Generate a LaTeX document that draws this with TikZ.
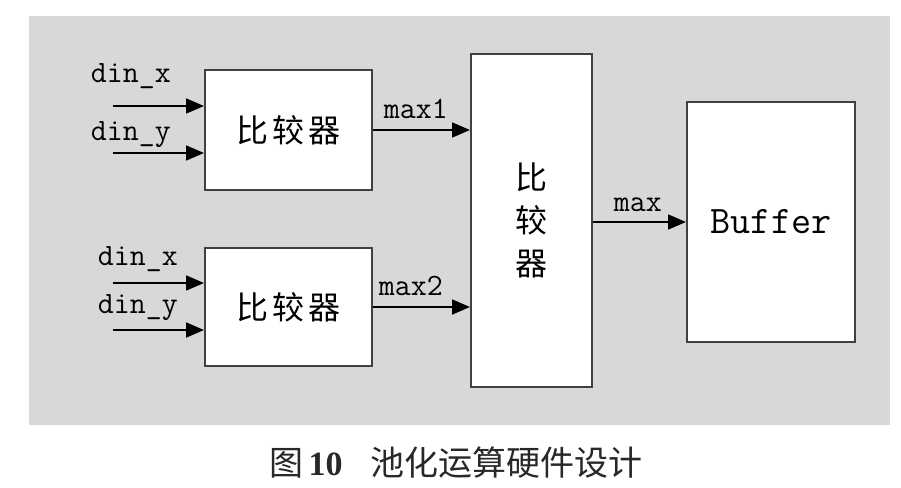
\documentclass[tikz,border=0pt]{standalone}
\usepackage{fontspec}
\usetikzlibrary{arrows.meta,positioning}
\newfontfamily\cjk{Noto Sans CJK SC}
\newfontfamily\capfont{Liberation Serif}
\definecolor{bggray}{RGB}{216,216,216}
\definecolor{boxline}{RGB}{64,64,64}
\definecolor{captext}{RGB}{40,40,40}

\begin{document}
\begin{tikzpicture}[x=1pt,y=-1pt,->,>={Triangle[length=18pt,width=15pt]},line width=1.8pt,
block/.style={rectangle,fill=white,draw=boxline,line width=2pt,inner sep=0pt,font=\cjk\fontsize{32}{43}\selectfont},
lab/.style={font=\ttfamily\fontsize{31}{36}\selectfont,inner sep=0pt}]
\useasboundingbox (0,0) rectangle (901,487);
\fill[-,white] (0,0) rectangle (901,487);
\fill[-,bggray] (29,16) rectangle (890,425);

% first comparator
  \node[block,minimum width=167pt,minimum height=120pt] (cmp1) at (288.5,130) {比\hspace{4pt}较\hspace{4pt}器};
  \coordinate (in1) at (113,106);
  \coordinate (in2) at (113,153);
  \node[lab,anchor=base west] (x1) at (90,82) {din\_x};
  \node[lab,anchor=base west] (y1) at (90,140) {din\_y};

  \path
    (in1) edge (in1 -| cmp1.west)
    (in2) edge (in2 -| cmp1.west);

% second comparator
  \node[block,minimum width=167pt,minimum height=118pt] (cmp2) at (288.5,307) {比\hspace{4pt}较\hspace{4pt}器};
  \coordinate (in3) at (113,283);
  \coordinate (in4) at (113,330);
  \node[lab,anchor=base west] (x2) at (97,265) {din\_x};
  \node[lab,anchor=base west] (y2) at (97,313) {din\_y};

  \path
    (in3) edge (in3 -| cmp2.west)
    (in4) edge (in4 -| cmp2.west);

% last comparator
  \node[block,minimum width=121pt,minimum height=333pt,align=center] (cmp3) at (531.5,220.5) {比\\较\\器};

  \path
    (cmp1.east) edge (cmp1.east -| cmp3.west)
    (cmp2.east) edge (cmp2.east -| cmp3.west);
  \node[lab,anchor=base west] (m1) at (383,118) {max1};
  \node[lab,anchor=base west] (m2) at (378,295) {max2};

% buffer
  \node[block,minimum width=168pt,minimum height=240pt,font=\ttfamily\fontsize{39}{44}\selectfont] (buf) at (771,222) {Buffer};

  \path
    (cmp3.east |- buf.west) edge (buf.west);
  \node[lab,anchor=base west] (m3) at (613,211) {max};

% caption
\node[font=\cjk\fontsize{34}{40}\selectfont,text=captext,inner sep=0pt] (cap) at (456,463) {图\hspace{5pt}{\capfont\bfseries 10}\hspace{28pt}池化运算硬件设计};

\end{tikzpicture}
\end{document}
